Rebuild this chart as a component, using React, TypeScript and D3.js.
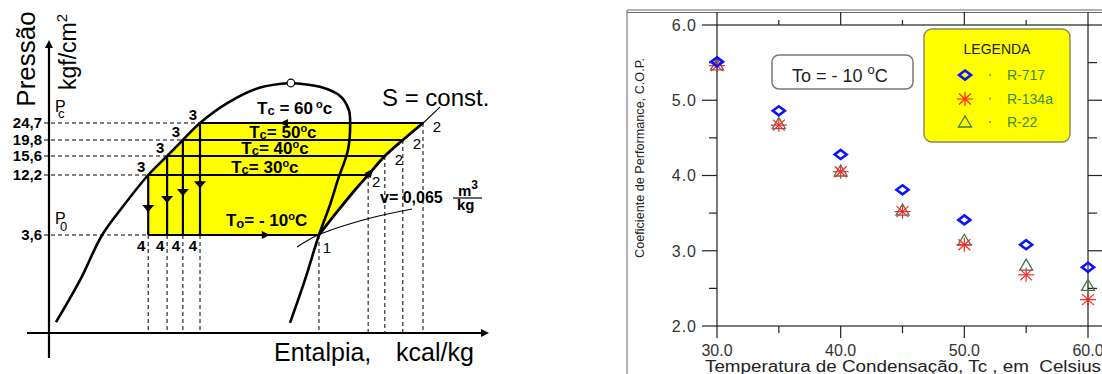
import React from "react";
import * as d3 from "d3";

const W = 1102;
const H = 374;
const FONT = "'Liberation Sans', Arial, Helvetica, sans-serif";

// ---------- left: schematic P-h diagram ----------
// points are [enthalpy (arbitrary 0..100), pressure kgf/cm2]
const P_TICKS = [3.6, 12.2, 15.6, 19.8, 24.7];
const P_TICK_LABELS = ["3,6", "12,2", "15,6", "19,8", "24,7"];
const TC_VALUES = [30, 40, 50, 60];
const P_COND = [12.2, 15.6, 19.8, 24.7];
const H_LIQ = [22.6, 26.9, 30.5, 34.4]; // points 3 and 4
const H_DIS = [72.7, 76.5, 80.6, 85.2]; // points 2
const P_EVAP = 3.6;
const H_SUCTION = 61.5; // point 1
const CRIT: [number, number] = [55.1, 36.1];

const LIQUID_LINE: [number, number][] = [
  [1.6, 0.4], [7.1, 1.95], [12.1, 3.6], [17.1, 7.9], [22.6, 12.2], [26.9, 15.6],
  [30.5, 19.8], [34.4, 24.7], [40.8, 30.5], [48.1, 34.8], [55.1, 36.1],
];
const VAPOR_LINE: [number, number][] = [
  [55.1, 36.1], [61.7, 35.0], [66.3, 32.4], [68.3, 28.4], [68.6, 24.1], [68.1, 17.2],
  [65.8, 11.5], [64.0, 7.9], [61.5, 3.6], [58.3, 1.95], [54.9, 0.37],
];
const ISENTROPE: [number, number][] = [
  [61.5, 3.6], [65.6, 6.9], [69.7, 10.05], [72.7, 12.2], [76.5, 15.6],
  [80.6, 19.8], [85.2, 24.7], [89.1, 29.3],
];
const ISOCHORE: [number, number][] = [
  [56.5, 3.16], [61.3, 3.6], [72.4, 5.9], [82.7, 7.33],
];
const EXP_ARROW_P = [6.9, 8.2, 9.2, 10.3];
const TC_LABEL_H = [41.5, 43.8, 45.6, 47.4];

// ---------- right: COP vs condensing temperature ----------
const TC = [30, 35, 40, 45, 50, 55, 60];
const COP_R717 = [5.51, 4.86, 4.28, 3.81, 3.41, 3.08, 2.78];
const COP_R134A = [5.46, 4.67, 4.05, 3.52, 3.08, 2.68, 2.35];
const COP_R22 = [5.47, 4.69, 4.06, 3.54, 3.14, 2.81, 2.54];
const LEGEND = ["R-717", "R-134a", "R-22"];

const Arrow = ({ x, y, angle, len = 8, half = 5 }: any) => (
  <path
    d={`M0,0 L${-len},${-half} L${-len},${half} Z`}
    transform={`translate(${x},${y}) rotate(${angle})`}
    fill="#000"
  />
);

const Diamond = ({ x, y }: any) => (
  <path d="M0,-4.5 L6,0 L0,4.5 L-6,0 Z" transform={`translate(${x},${y})`}
    fill="none" stroke="#0a14ff" strokeWidth={2.6} />
);
const Star = ({ x, y }: any) => (
  <g transform={`translate(${x},${y})`} stroke="#ff2424" strokeWidth={1.2}>
    <line x1={-8} y1={0} x2={8} y2={0} />
    <line x1={0} y1={-7} x2={0} y2={7} />
    <line x1={-6} y1={-5.5} x2={6} y2={5.5} />
    <line x1={-6} y1={5.5} x2={6} y2={-5.5} />
  </g>
);
const Tri = ({ x, y }: any) => (
  <path d="M0,-6 L6.5,5 L-6.5,5 Z" transform={`translate(${x},${y})`}
    fill="none" stroke="#3d7a55" strokeWidth={1.3} />
);

export default function App() {
  // left scales
  const hX = d3.scaleLinear().domain([0, 100]).range([49, 488]);
  const pY = d3.scaleLinear()
    .domain([0, 3.6, 12.2, 15.6, 19.8, 24.7, 36.1])
    .range([333, 235, 175, 156, 140, 123, 83]);
  const curve = d3.line<[number, number]>()
    .x((d) => hX(d[0])).y((d) => pY(d[1]))
    .curve(d3.curveCatmullRom.alpha(0.5));
  const poly = d3.line<[number, number]>().x((d) => hX(d[0])).y((d) => pY(d[1]));

  const yellow: [number, number][] = [
    [H_LIQ[0], P_COND[0]],
    [H_LIQ[0], P_EVAP],
    ...ISENTROPE.filter((d) => d[1] <= 24.7),
    [H_LIQ[3], P_COND[3]],
    [H_LIQ[2], P_COND[2]],
    [H_LIQ[1], P_COND[1]],
  ];

  // right scales
  const x = d3.scaleLinear().domain([30, 60]).range([717, 1088]);
  const y = d3.scaleLinear().domain([2, 6]).range([326, 25]);
  const xTicks = d3.range(30, 60.1, 5);
  const yTicks = d3.range(2, 6.01, 0.5);
  const isMajor = (v: number, step: number) => Math.abs(v / step - Math.round(v / step)) < 1e-6;

  const sA = ISENTROPE[3];
  const sB = ISENTROPE[4];
  const sAng = (Math.atan2(pY(sB[1]) - pY(sA[1]), hX(sB[0]) - hX(sA[0])) * 180) / Math.PI;

  return (
    <svg width={W} height={H} style={{ position: "absolute", left: 0, top: 0, background: "#fff" }}
      fontFamily={FONT}>
      {/* ================= LEFT DIAGRAM ================= */}
      <path d={poly(yellow) ?? ""} fill="#ffff00" />

      {/* dashed reference lines */}
      <g stroke="#000" strokeWidth={1} strokeDasharray="4,3" fill="none">
        {P_TICKS.map((p, i) => (
          <line key={"hd" + i} x1={44} x2={hX(i === 0 ? H_LIQ[0] : H_LIQ[i - 1])} y1={pY(p)} y2={pY(p)} />
        ))}
        {H_LIQ.map((h, i) => (
          <line key={"vd" + i} x1={hX(h)} x2={hX(h)} y1={pY(P_EVAP)} y2={pY(0)} />
        ))}
        <line x1={hX(H_SUCTION)} x2={hX(H_SUCTION)} y1={pY(P_EVAP)} y2={pY(0)} />
        {H_DIS.map((h, i) => (
          <line key={"vd2" + i} x1={hX(h)} x2={hX(h)} y1={pY(P_COND[i])} y2={pY(0)} />
        ))}
      </g>

      {/* cycle lines */}
      <g stroke="#000" strokeWidth={2.2} fill="none">
        {P_COND.map((p, i) => (
          <line key={"c" + i} x1={hX(H_LIQ[i])} x2={hX(H_DIS[i])} y1={pY(p)} y2={pY(p)} />
        ))}
        {P_COND.map((p, i) => (
          <line key={"e" + i} x1={hX(H_LIQ[i])} x2={hX(H_LIQ[i])} y1={pY(p)} y2={pY(P_EVAP)} />
        ))}
        <line x1={hX(H_LIQ[0])} x2={hX(H_SUCTION)} y1={pY(P_EVAP)} y2={pY(P_EVAP)} />
      </g>
      <path d={curve(LIQUID_LINE) ?? ""} fill="none" stroke="#000" strokeWidth={2.6} />
      <path d={curve(VAPOR_LINE) ?? ""} fill="none" stroke="#000" strokeWidth={2.6} />
      <path d={curve(ISENTROPE.slice(0, 7)) ?? ""} fill="none" stroke="#000" strokeWidth={2.8} />
      <path d={curve(ISENTROPE.slice(5)) ?? ""} fill="none" stroke="#000" strokeWidth={1.2} />
      <path d={curve(ISOCHORE) ?? ""} fill="none" stroke="#000" strokeWidth={1.1} />
      <circle cx={hX(CRIT[0])} cy={pY(CRIT[1])} r={3.8} fill="#fff" stroke="#000" strokeWidth={1.2} />

      {/* arrows */}
      {H_LIQ.map((h, i) => (
        <Arrow key={"a" + i} x={hX(h)} y={pY(EXP_ARROW_P[i])} angle={90} len={7} half={6} />
      ))}
      <Arrow x={hX(52.6)} y={pY(24.7)} angle={180} len={8} half={4} />
      <Arrow x={hX(50.3)} y={pY(P_EVAP)} angle={0} len={8} half={4} />
      <Arrow x={hX(73.9)} y={pY(13.3)} angle={sAng} len={9} half={4} />

      {/* axes */}
      <g stroke="#000" strokeWidth={2.2}>
        <line x1={hX(0)} x2={hX(0)} y1={46} y2={358} />
        <line x1={27} x2={hX(100) - 4} y1={pY(0)} y2={pY(0)} />
      </g>
      <Arrow x={hX(0)} y={40} angle={-90} len={8} half={4} />
      <Arrow x={hX(100) + 1} y={pY(0)} angle={0} len={8} half={4} />

      {/* pressure tick labels */}
      {P_TICKS.map((p, i) => (
        <text key={"pt" + i} x={42} y={pY(p)} dy="0.36em" textAnchor="end" fontSize={15} fontWeight={700}>
          {P_TICK_LABELS[i]}
        </text>
      ))}
      <text x={55} y={112} fontSize={16}>P</text>
      <text x={58} y={118} fontSize={13}>c</text>
      <text x={55} y={224} fontSize={16}>P</text>
      <text x={60} y={231} fontSize={13}>0</text>

      <text transform="translate(35,59) rotate(-90)" textAnchor="middle" fontSize={26}>Pressão</text>
      <text transform="translate(76,52) rotate(-90)" textAnchor="middle" fontSize={23}>
        kgf/cm<tspan dy={-9} fontSize={15}>2</tspan>
      </text>

      {/* point labels */}
      <g fontSize={15} fontWeight={700} textAnchor="middle">
        {H_LIQ.map((h, i) => (
          <text key={"l3" + i} x={hX(h) - 7} y={pY(P_COND[i]) - 8} dy="0.36em">3</text>
        ))}
        {H_LIQ.map((h, i) => (
          <text key={"l4" + i} x={hX(h) - 7} y={pY(P_EVAP) + 11} dy="0.36em">4</text>
        ))}
        {H_DIS.map((h, i) => (
          <text key={"l2" + i} x={hX(h) + (i === 0 ? 8 : 14)} y={pY(P_COND[i]) + (i === 0 ? 7 : 4)} dy="0.36em"
            fontWeight={400}>2</text>
        ))}
        <text x={hX(H_SUCTION) + 8} y={pY(P_EVAP) + 13} dy="0.36em" fontWeight={400}>1</text>
      </g>

      {/* isotherm labels */}
      {TC_VALUES.map((t, i) => (
        <text key={"tc" + i} x={hX(TC_LABEL_H[i])} y={pY(P_COND[i]) + (i === 3 ? -15 : -8)} dy="0.36em"
          fontSize={17} fontWeight={700}>
          T<tspan fontSize={13} dy={1}>c</tspan>
          <tspan dy={-1}>{i === 3 ? " = " : "= "}{t}</tspan>
          <tspan fontSize={11} dy={-6}>{i === 3 ? " o" : "o"}</tspan>
          <tspan dy={6}>c</tspan>
        </text>
      ))}
      <text x={hX(40.3)} y={220} dy="0.36em" fontSize={17} fontWeight={700}>
        T<tspan fontSize={13} dy={2}>o</tspan>
        <tspan dy={-2}>= - 10</tspan>
        <tspan fontSize={11} dy={-6}>o</tspan>
        <tspan dy={6}>C</tspan>
      </text>

      <text x={382} y={106} fontSize={24}>S = const.</text>
      <text x={380} y={203} fontSize={16} fontWeight={700}>v= 0,065</text>
      <text x={458} y={196} fontSize={15} fontWeight={700}>m<tspan dy={-7} fontSize={12}>3</tspan></text>
      <line x1={453} x2={482} y1={198} y2={198} stroke="#000" strokeWidth={1.2} />
      <text x={457} y={210} fontSize={15} fontWeight={700}>kg</text>

      <text x={274} y={361} fontSize={25}>Entalpia,</text>
      <text x={396} y={361} fontSize={25}>kcal/kg</text>

      {/* ================= RIGHT CHART ================= */}
      <g stroke="#555" strokeWidth={0.9}>
        <line x1={627} x2={W} y1={10} y2={10} />
        <line x1={627} x2={W} y1={12.5} y2={12.5} />
        <line x1={627} x2={627} y1={10} y2={H} />
      </g>

      <g stroke="#222" strokeWidth={1.2}>
        <rect x={x(30)} y={y(6)} width={x(60) - x(30)} height={y(2) - y(6)} fill="none" />
        {xTicks.map((v) => {
          const m = isMajor(v, 10);
          return (
            <g key={"xt" + v}>
              <line x1={x(v)} x2={x(v)} y1={y(2)} y2={y(2) + (m ? 12 : 7)} />
              <line x1={x(v)} x2={x(v)} y1={y(6)} y2={y(6) - (m ? 13 : 5)} />
            </g>
          );
        })}
        {yTicks.map((v) => {
          const m = isMajor(v, 1);
          return (
            <g key={"yt" + v}>
              <line x1={x(30)} x2={x(30) - (m ? 15 : 8)} y1={y(v)} y2={y(v)} />
              <line x1={x(60)} x2={x(60) + (m ? 14 : 9)} y1={y(v)} y2={y(v)} />
            </g>
          );
        })}
      </g>
      <g fill="#333">
        {yTicks.filter((v) => isMajor(v, 1)).map((v) => (
          <text key={"yl" + v} x={697} y={y(v)} dy="0.36em" textAnchor="end" fontSize={16} letterSpacing={1}>
            {v.toFixed(1)}
          </text>
        ))}
        {xTicks.filter((v) => isMajor(v, 10)).map((v) => (
          <text key={"xl" + v} x={x(v)} y={356} textAnchor="middle" fontSize={16}>
            {v.toFixed(1)}
          </text>
        ))}
      </g>
      <text transform="translate(644,158) rotate(-90)" textAnchor="middle" fontSize={13}
        textLength={200} lengthAdjust="spacingAndGlyphs" fill="#222">
        Coeficiente de Performance, C.O.P.
      </text>
      <text x={705} y={372} fontSize={16} fill="#222" textLength={396} lengthAdjust="spacingAndGlyphs"
        style={{ whiteSpace: "pre" }}>
        {"Temperatura de Condensação, Tc , em  Celsius"}
      </text>

      {/* To box */}
      <rect x={772} y={55} width={141} height={34} rx={7} fill="#fff" stroke="#777" strokeWidth={1.5} />
      <text x={792} y={82} fontSize={18} fill="#222" style={{ whiteSpace: "pre" }}>
        {"To = - 10 "}<tspan fontSize={13} dy={-8}>o</tspan><tspan dy={8}>C</tspan>
      </text>

      {/* legend */}
      <rect x={924} y={29} width={146} height={113} rx={8} fill="#ffff00" stroke="#8a8a5a" strokeWidth={1.4} />
      <text x={997} y={54} textAnchor="middle" fontSize={14} fill="#222">LEGENDA</text>
      <Diamond x={965} y={75} />
      <Star x={965} y={99} />
      <Tri x={965} y={122} />
      {LEGEND.map((l, i) => (
        <g key={"lg" + i}>
          <circle cx={990} cy={75 + i * 23.5} r={0.9} fill="#777" />
          <text x={1007} y={75 + i * 23.5} dy="0.36em" fontSize={14} fill="#3c8c3c">{l}</text>
        </g>
      ))}

      {/* data */}
      {TC.map((t, i) => <Tri key={"r22" + i} x={x(t)} y={y(COP_R22[i])} />)}
      {TC.map((t, i) => <Star key={"r134" + i} x={x(t)} y={y(COP_R134A[i])} />)}
      {TC.map((t, i) => <Diamond key={"r717" + i} x={x(t)} y={y(COP_R717[i])} />)}
    </svg>
  );
}
